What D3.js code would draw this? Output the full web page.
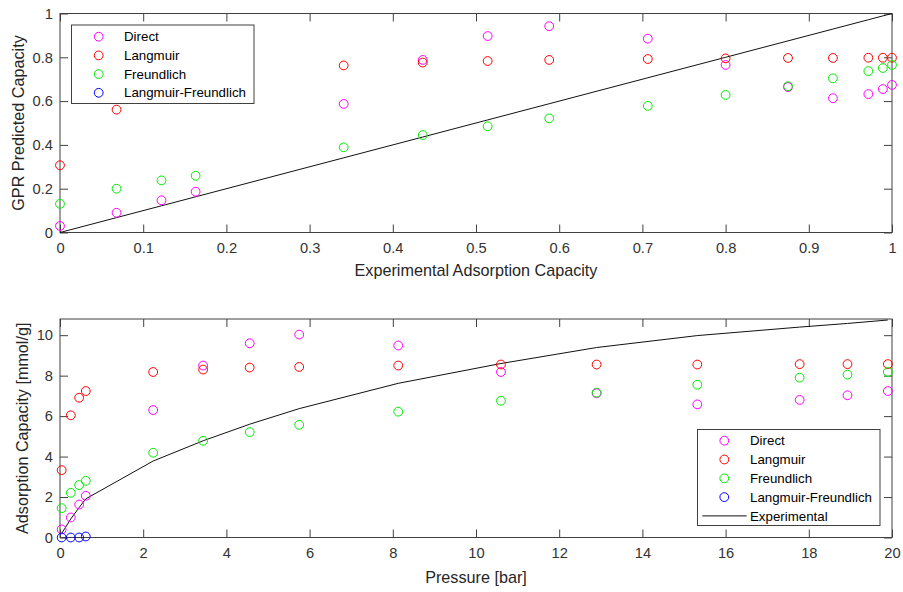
<!DOCTYPE html>
<html><head><meta charset="utf-8">
<script src="https://cdn.jsdelivr.net/npm/d3@7"></script>
<style>
body{margin:0;background:#fff;}
text{font-family:"Liberation Sans",Arial,Helvetica,sans-serif;}
</style></head>
<body><svg id="c" width="903" height="592"></svg>
<script>
// ---- data ----
const topX = [0, 0.068, 0.122, 0.163, 0.341, 0.436, 0.514, 0.588, 0.7065, 0.800, 0.875, 0.929, 0.9716, 0.989, 1.0];
const topDirect = [0.030, 0.090, 0.147, 0.186, 0.587, 0.788, 0.897, 0.942, 0.885, 0.765, 0.664, 0.613, 0.632, 0.655, 0.674];
const topLangmuir = [0.307, 0.561, 0.638, 0.669, 0.763, 0.776, 0.783, 0.788, 0.792, 0.795, 0.797, 0.797, 0.798, 0.798, 0.798];
const topFreundlich = [0.131, 0.200, 0.238, 0.259, 0.389, 0.445, 0.485, 0.521, 0.578, 0.628, 0.668, 0.704, 0.737, 0.751, 0.765];
const topLF = [];

const pressure = [0.04, 0.26, 0.46, 0.62, 2.24, 3.44, 4.56, 5.75, 8.13, 10.6, 12.9, 15.32, 17.78, 18.93, 19.9];
const experimental = [0.2, 0.92, 1.48, 1.91, 3.78, 4.78, 5.6, 6.37, 7.62, 8.6, 9.39, 9.98, 10.4, 10.58, 10.75];
const botDirect = [0.40, 0.99, 1.63, 2.06, 6.30, 8.50, 9.60, 10.03, 9.49, 8.18, 7.13, 6.58, 6.80, 7.03, 7.24];
const botLangmuir = [3.33, 6.04, 6.91, 7.24, 8.18, 8.30, 8.40, 8.43, 8.50, 8.55, 8.55, 8.55, 8.57, 8.57, 8.57];
const botFreundlich = [1.45, 2.21, 2.59, 2.80, 4.19, 4.78, 5.21, 5.57, 6.22, 6.76, 7.16, 7.55, 7.90, 8.05, 8.18];
const lfPressure = [0.04, 0.26, 0.46, 0.62];
const botLF = [0.0, 0.0, 0.0, 0.05];

const seriesNames = ["Direct", "Langmuir", "Freundlich", "Langmuir-Freundlich"];
const seriesColors = ["#ff00ff", "#ff0000", "#00ee00", "#0000ff"];
const topXTicks = [0, 0.1, 0.2, 0.3, 0.4, 0.5, 0.6, 0.7, 0.8, 0.9, 1];
const topYTicks = [0, 0.2, 0.4, 0.6, 0.8, 1];
const botXTicks = [0, 2, 4, 6, 8, 10, 12, 14, 16, 18, 20];
const botYTicks = [0, 2, 4, 6, 8, 10];

// ---- drawing ----
const svg = d3.select("#c");
const axisColor = "#404040";
const tickFont = 14.7, labelFont = 16.2, legFont = 13.3;
const R = 4.4;

function panel(o) {
  const x = d3.scaleLinear().domain(o.xd).range([o.l, o.r]);
  const y = d3.scaleLinear().domain(o.yd).range([o.b, o.t]);
  const g = svg.append("g");
  g.append("rect").attr("x", o.l).attr("y", o.t).attr("width", o.r - o.l).attr("height", o.b - o.t)
    .attr("fill", "#fff").attr("stroke", "none");
  const fmt = d => String(+d.toFixed(2));
  const styleAx = sel => {
    sel.select(".domain").remove();
    sel.selectAll("line").attr("stroke", axisColor);
    sel.selectAll("text").attr("fill", "#333").style("font-size", tickFont + "px");
  };
  g.append("g").attr("transform", `translate(0,${o.b})`)
    .call(d3.axisBottom(x).tickValues(o.xt).tickFormat(fmt).tickSize(-8).tickPadding(10)).call(styleAx);
  g.append("g").attr("transform", `translate(0,${o.t})`)
    .call(d3.axisTop(x).tickValues(o.xt).tickFormat("").tickSize(-8)).call(styleAx);
  g.append("g").attr("transform", `translate(${o.l},0)`)
    .call(d3.axisLeft(y).tickValues(o.yt).tickFormat(fmt).tickSize(-8).tickPadding(7)).call(styleAx);
  g.append("g").attr("transform", `translate(${o.r},0)`)
    .call(d3.axisRight(y).tickValues(o.yt).tickFormat("").tickSize(-8)).call(styleAx);
  g.append("rect").attr("x", o.l).attr("y", o.t).attr("width", o.r - o.l).attr("height", o.b - o.t)
    .attr("fill", "none").attr("stroke", axisColor).attr("stroke-width", 1);

  // line
  const line = d3.line().x(d => x(d[0])).y(d => y(d[1]));
  g.append("path").datum(d3.zip(o.lineX, o.lineY)).attr("d", line)
    .attr("fill", "none").attr("stroke", "#111").attr("stroke-width", 1);

  // markers
  o.series.forEach((s, i) => {
    g.append("g").selectAll("circle").data(d3.zip(s.x, s.y)).join("circle")
      .attr("cx", d => x(d[0])).attr("cy", d => y(d[1])).attr("r", R)
      .attr("fill", "none").attr("stroke", seriesColors[i]).attr("stroke-width", 1);
  });

  // axis titles
  g.append("text").attr("x", (o.l + o.r) / 2).attr("y", o.xlabY).attr("text-anchor", "middle")
    .attr("fill", "#262626").style("font-size", labelFont + "px").text(o.xlab);
  g.append("text").attr("transform", `translate(${o.ylabX},${(o.t + o.b) / 2}) rotate(-90)`)
    .attr("text-anchor", "middle").attr("fill", "#262626").style("font-size", labelFont + "px").text(o.ylab);

  // legend
  const L = o.leg;
  const lg = g.append("g");
  lg.append("rect").attr("x", L.x).attr("y", L.y).attr("width", L.w).attr("height", L.h)
    .attr("fill", "#fff").attr("stroke", axisColor).attr("stroke-width", 1);
  L.items.forEach((it, k) => {
    const yy = L.y + L.first + k * L.step;
    if (it.type === "marker") {
      lg.append("circle").attr("cx", L.mx).attr("cy", yy).attr("r", R)
        .attr("fill", "none").attr("stroke", it.color).attr("stroke-width", 1);
    } else {
      lg.append("line").attr("x1", L.lx1).attr("x2", L.lx2).attr("y1", yy).attr("y2", yy)
        .attr("stroke", "#111").attr("stroke-width", 1);
    }
    lg.append("text").attr("x", L.tx).attr("y", yy).attr("dy", "0.35em").attr("fill", "#000")
      .style("font-size", legFont + "px").text(it.name);
  });
}

const markerItems = seriesNames.map((n, i) => ({ type: "marker", name: n, color: seriesColors[i] }));

panel({
  l: 60, r: 892, t: 13.5, b: 232.5, xd: [0, 1], yd: [0, 1], xt: topXTicks, yt: topYTicks,
  lineX: topX, lineY: topX,
  series: [
    { x: topX, y: topDirect }, { x: topX, y: topLangmuir }, { x: topX, y: topFreundlich }, { x: [], y: topLF }
  ],
  xlab: "Experimental Adsorption Capacity", xlabY: 276,
  ylab: "GPR Predicted Capacity", ylabX: 24,
  leg: { x: 71.5, y: 25, w: 182.5, h: 78.5, first: 11.7, step: 18.7, mx: 98.7, tx: 124, items: markerItems }
});

panel({
  l: 60, r: 892, t: 319, b: 537.5, xd: [0, 20], yd: [0, 10.8], xt: botXTicks, yt: botYTicks,
  lineX: pressure, lineY: experimental,
  series: [
    { x: pressure, y: botDirect }, { x: pressure, y: botLangmuir }, { x: pressure, y: botFreundlich }, { x: lfPressure, y: botLF }
  ],
  xlab: "Pressure [bar]", xlabY: 583,
  ylab: "Adsorption Capacity [mmol/g]", ylabX: 28,
  leg: { x: 697.5, y: 429.5, w: 182.5, h: 96, first: 11.2, step: 18.8, mx: 724.3, tx: 750, lx1: 702.3, lx2: 746.7,
         items: markerItems.concat([{ type: "line", name: "Experimental" }]) }
});
</script>
</body></html>
